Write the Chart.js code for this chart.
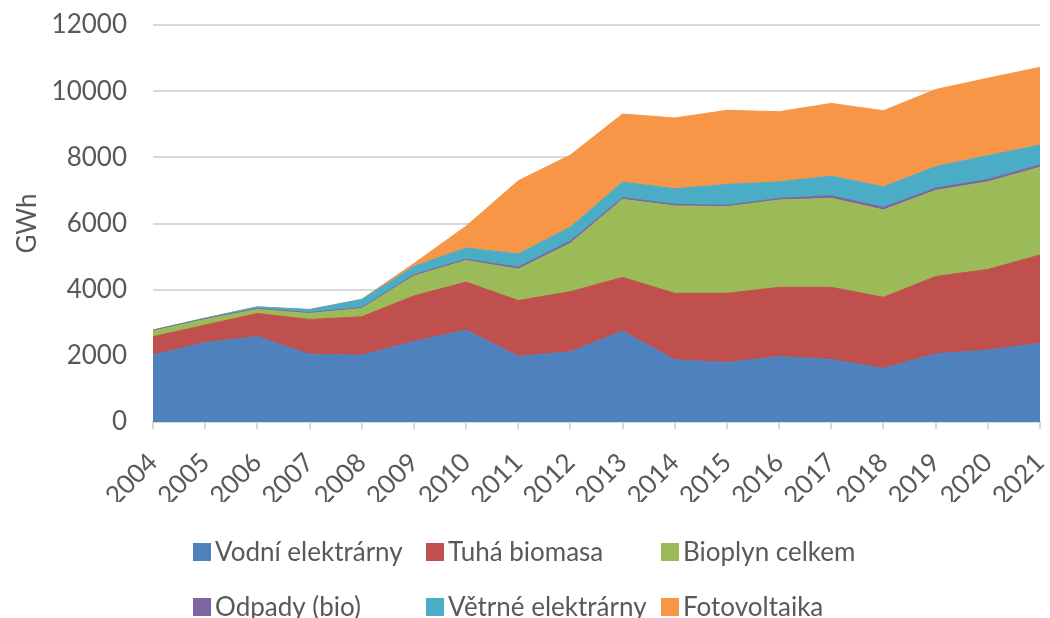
<!DOCTYPE html>
<html><head><meta charset="utf-8">
<script src="https://cdn.jsdelivr.net/npm/chart.js@4.4.0/dist/chart.umd.min.js"></script>
<style>html,body{margin:0;padding:0;background:#fff;} #wrap{width:1050px;height:618px;position:relative;}</style>
</head><body><div id="wrap"><canvas id="c" width="1050" height="618"></canvas></div>
<script>
const years = ['2004','2005','2006','2007','2008','2009','2010','2011','2012','2013','2014','2015','2016','2017','2018','2019','2020','2021'];
const vodni   = [2020, 2400, 2580, 2050, 2020, 2430, 2780, 1990, 2120, 2750, 1880, 1800, 1980, 1890, 1620, 2060, 2170, 2380];
const tuha    = [560, 530, 700, 1050, 1160, 1380, 1450, 1680, 1820, 1620, 2010, 2090, 2090, 2180, 2150, 2340, 2440, 2670];
const bioplyn = [170, 170, 120, 180, 250, 600, 650, 950, 1460, 2360, 2640, 2620, 2640, 2690, 2640, 2600, 2650, 2650];
const odpady  = [20, 20, 30, 30, 30, 40, 40, 60, 70, 50, 50, 40, 50, 80, 80, 70, 70, 70];
const vetrne  = [10, 20, 50, 90, 240, 250, 340, 400, 420, 470, 470, 630, 500, 590, 620, 650, 720, 600];
const foto    = [0, 0, 0, 0, 10, 90, 660, 2210, 2180, 2060, 2140, 2240, 2120, 2200, 2300, 2330, 2340, 2350];
const seriesNames = ['Vodní elektrárny','Tuhá biomasa','Bioplyn celkem','Odpady (bio)','Větrné elektrárny','Fotovoltaika'];
const seriesColors = ['#4F81BD','#C0504D','#9BBB59','#8064A2','#4BACC6','#F79646'];
const yTicks = [0, 2000, 4000, 6000, 8000, 10000, 12000];
const yTitle = 'GWh';

const TXT = '#595959';
const FONT = 'Lato';

const seriesData = [vodni, tuha, bioplyn, odpady, vetrne, foto];
const datasets = seriesData.map((d, i) => ({
  label: seriesNames[i],
  data: d,
  backgroundColor: seriesColors[i],
  borderColor: seriesColors[i],
  borderWidth: 1,
  pointRadius: 0,
  tension: 0,
  fill: i === 0 ? 'origin' : '-1'
}));

const gridLegend = {
  id: 'gridLegend',
  afterDraw(chart) {
    const ctx = chart.ctx;
    const cols = [193, 426, 661], rows = [552, 607];
    ctx.save();
    ctx.font = '26px ' + FONT;
    ctx.textBaseline = 'middle';
    ctx.textAlign = 'left';
    chart.data.datasets.forEach((ds, i) => {
      const x = cols[i % 3], y = rows[Math.floor(i / 3)];
      ctx.fillStyle = ds.backgroundColor;
      ctx.fillRect(x, y - 9, 18, 18);
      ctx.fillStyle = TXT;
      ctx.fillText(ds.label, x + 22, y + 1);
    });
    ctx.restore();
  }
};

new Chart(document.getElementById('c'), {
  type: 'line',
  data: { labels: years, datasets },
  options: {
    responsive: false,
    devicePixelRatio: 1,
    animation: false,
    layout: { padding: { top: 25, right: 10, bottom: 116, left: 0 } },
    plugins: { legend: { display: false }, tooltip: { enabled: false } },
    scales: {
      x: {
        type: 'category',
        offset: false,
        grid: { drawOnChartArea: false, color: '#d9d9d9', lineWidth: 2, tickLength: 7 },
        border: { display: true, color: '#d9d9d9', width: 2 },
        ticks: { color: TXT, font: { family: FONT, size: 26 }, maxRotation: 45, minRotation: 45, padding: 18, autoSkip: false },
        afterFit(s) { s.height = 80; s.paddingLeft = 0; s.paddingRight = 0; }
      },
      y: {
        stacked: true,
        min: 0,
        max: 12000,
        afterBuildTicks(s) { s.ticks = yTicks.map(v => ({ value: v })); },
        grid: { color: '#d9d9d9', lineWidth: 2, drawTicks: false },
        border: { display: false },
        ticks: { color: TXT, font: { family: FONT, size: 26 }, padding: 26, callback: v => String(v) },
        title: { display: true, text: yTitle, color: TXT, font: { family: FONT, size: 26 }, padding: { top: 12, bottom: 0 } },
        afterFit(s) { s.width = 153; s.paddingTop = 0; s.paddingBottom = 0; }
      }
    }
  },
  plugins: [gridLegend]
});
</script>
</body></html>
